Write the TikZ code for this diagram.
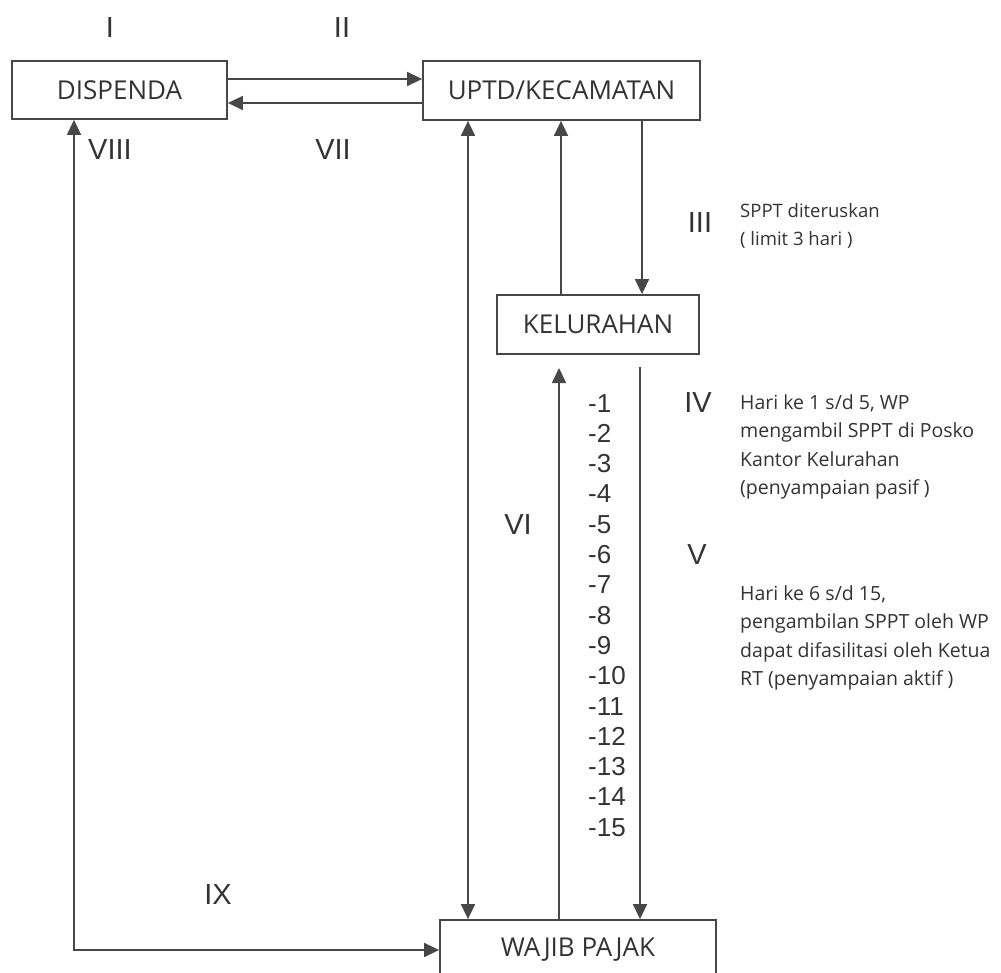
\documentclass[tikz,border=0pt]{standalone}
\usepackage{fontspec}
\setmainfont{Open Sans}
\newfontfamily\arialf{Liberation Sans}
\usetikzlibrary{arrows.meta}
\definecolor{ln}{HTML}{474747}
\definecolor{tx}{HTML}{333333}
\tikzset{
  box/.style={draw=ln, line width=1.8pt, inner sep=0pt, text=tx, font=\fontsize{26}{30}\selectfont},
  arr/.style={draw=ln, line width=1.6pt, -{Triangle[length=15pt,width=14pt]}},
  arrtwo/.style={draw=ln, line width=1.6pt, {Triangle[length=15pt,width=14pt]}-{Triangle[length=15pt,width=14pt]}},
  roman/.style={inner sep=0pt, text=tx, font=\arialf\fontsize{29}{32}\selectfont},
  num/.style={inner sep=0pt, anchor=base west, text=tx, font=\arialf\fontsize{26}{28}\selectfont},
  desc/.style={inner sep=0pt, anchor=base west, align=left, text=tx, font=\fontsize{19.5}{28.6}\selectfont},
  descsmall/.style={desc, font=\fontsize{18.5}{28}\selectfont}
}
\begin{document}
\begin{tikzpicture}[x=1pt,y=-1pt]
\useasboundingbox (0,0) rectangle (1001,973);
\clip (0,0) rectangle (1001,973);
\fill[white] (0,0) rectangle (1001,973);

% boxes
\node[box, minimum width=215pt, minimum height=58pt] (dis) at (119.5,90) {DISPENDA};
\node[box, minimum width=277pt, minimum height=59pt] (upt) at (561.5,90.5) {UPTD/KECAMATAN};
\node[box, minimum width=202pt, minimum height=59pt] (kel) at (598,324.5) {KELURAHAN};
\node[box, minimum width=276pt, minimum height=60pt] (wp) at (578,950) {WAJIB PAJAK};

% free ends below KELURAHAN
\coordinate (vitip) at (559,368);
\coordinate (ivstart) at (640,367);

% connectors
\draw[arr] (dis.east |- 0,79) -- (upt.west |- 0,79);
\draw[arr] (upt.west |- 0,103) -- (dis.east |- 0,103);
\draw[arrtwo] (upt.south -| 468,0) -- (wp.north -| 468,0);
\draw[arr] (kel.north -| 561,0) -- (upt.south -| 561,0);
\draw[arr] (upt.south -| 642,0) -- (kel.north -| 642,0);
\draw[arr] (wp.north -| vitip) -- (vitip);
\draw[arr] (ivstart) -- (wp.north -| ivstart);
\draw[arrtwo] (dis.south -| 74,0) |- (wp.west);

% roman numerals
\node[roman] (rI) at (110,28) {I};
\node[roman] (rII) at (342,28) {II};
\node[roman] (rVIII) at (110,150) {VIII};
\node[roman] (rVII) at (333,150) {VII};
\node[roman] (rIII) at (700,223) {III};
\node[roman] (rIV) at (698,403) {IV};
\node[roman] (rV) at (697,555) {V};
\node[roman] (rVI) at (518,525) {VI};
\node[roman] (rIX) at (218,895) {IX};

% day numbers
\foreach \i in {1,...,15} {
  \node[num] (n\i) at (588,{412+30.3*(\i-1)}) {-\i};
}

% descriptions (base anchor = baseline of last line)
\node[descsmall] (d3) at (740,245.5) {SPPT diteruskan\\( limit 3 hari )};
\node[desc] (d4) at (740,494.8) {Hari ke 1 s/d 5, WP\\mengambil SPPT di Posko\\Kantor Kelurahan\\(penyampaian pasif )};
\node[desc] (d5) at (740,685.8) {Hari ke 6 s/d 15,\\pengambilan SPPT oleh WP\\dapat difasilitasi oleh Ketua\\RT (penyampaian aktif )};
\end{tikzpicture}
\end{document}
